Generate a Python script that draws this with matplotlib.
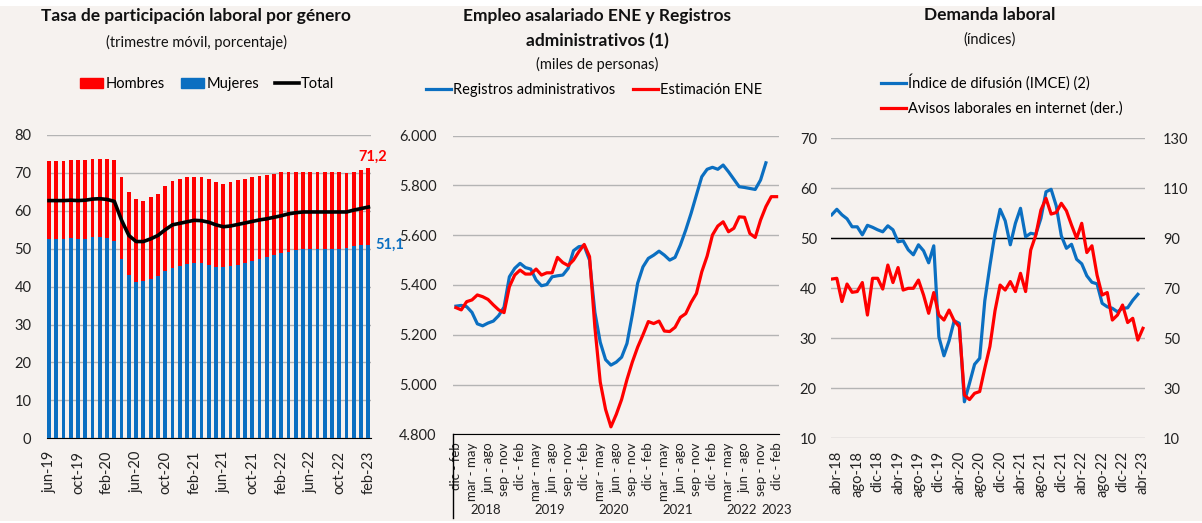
import numpy as np
import matplotlib
matplotlib.use("Agg")
import matplotlib.pyplot as plt
from matplotlib.patches import Rectangle, Patch
from matplotlib.lines import Line2D
from matplotlib.ticker import FuncFormatter

plt.rcParams['font.family'] = ['Lato', 'DejaVu Sans']

# ---------------- data ----------------
# left panel: participation rate, jun-19 .. feb-23 (monthly)
part_labels = ['jun-19', 'oct-19', 'feb-20', 'jun-20', 'oct-20', 'feb-21',
               'jun-21', 'oct-21', 'feb-22', 'jun-22', 'oct-22', 'feb-23']
hombres = [73.2, 73.2, 73.2, 73.4, 73.3, 73.4, 73.7, 73.7, 73.7, 73.3,
           69.0, 64.9, 63.1, 62.7, 63.6, 64.5, 66.5, 67.9, 68.4, 68.8,
           69.0, 69.0, 68.5, 67.7, 67.2, 67.5, 68.0, 68.5, 68.8, 69.1,
           69.4, 69.8, 70.2, 70.2, 70.2, 70.2, 70.2, 70.2, 70.2, 70.2,
           70.2, 70.0, 70.2, 70.7, 71.2]
mujeres = [52.7, 52.6, 52.6, 52.8, 52.5, 52.6, 53.2, 53.1, 52.8, 52.1,
           47.2, 43.1, 41.1, 41.4, 42.0, 42.7, 44.0, 44.9, 45.5, 46.1,
           46.2, 46.2, 45.8, 45.3, 45.1, 45.5, 45.8, 46.2, 46.8, 47.2,
           47.9, 48.3, 48.8, 49.2, 49.6, 49.9, 49.9, 49.9, 49.9, 49.9,
           49.9, 50.1, 50.7, 51.0, 51.1]
total = [62.7, 62.7, 62.7, 62.8, 62.7, 62.8, 63.1, 63.2, 63.0, 62.5,
         57.5, 53.5, 51.9, 51.9, 52.6, 53.5, 55.0, 56.3, 56.7, 57.1,
         57.5, 57.4, 57.0, 56.3, 55.8, 56.0, 56.4, 56.8, 57.2, 57.6,
         57.9, 58.3, 58.7, 59.2, 59.5, 59.7, 59.7, 59.7, 59.7, 59.7,
         59.7, 59.7, 60.2, 60.6, 61.0]

# middle panel: salaried employment, dic-feb 2018 .. dic-feb 2023 (monthly)
emp_labels = ['dic - feb', 'mar - may', 'jun - ago', 'sep - nov'] * 5 + ['dic - feb']
emp_years = ['2018', '2019', '2020', '2021', '2022', '2023']
registros = [5315, 5318, 5313, 5290, 5244, 5236, 5247, 5255, 5277, 5311,
             5433, 5467, 5487, 5470, 5464, 5420, 5397, 5402, 5433, 5437,
             5440, 5467, 5538, 5554, 5557, 5500, 5290, 5170, 5100, 5078,
             5090, 5110, 5165, 5280, 5407, 5473, 5507, 5520, 5536, 5520,
             5500, 5511, 5561, 5621, 5688, 5762, 5835, 5865, 5873, 5865,
             5882, 5855, 5825, 5795, 5792, 5788, 5784, 5822, 5891]
ene = [5309, 5300, 5333, 5340, 5360, 5353, 5342, 5320, 5300, 5289,
       5393, 5440, 5460, 5444, 5444, 5464, 5440, 5449, 5449, 5511,
       5490, 5478, 5500, 5534, 5563, 5514, 5230, 5010, 4900, 4830,
       4880, 4940, 5020, 5090, 5150, 5200, 5253, 5245, 5255, 5215,
       5213, 5230, 5270, 5285, 5330, 5366, 5453, 5516, 5601, 5637,
       5654, 5614, 5628, 5674, 5672, 5607, 5591, 5661, 5715, 5755, 5755]

# right panel: labour demand, mar-18 .. abr-23 (monthly)
dem_labels = ['abr-18', 'ago-18', 'dic-18', 'abr-19', 'ago-19', 'dic-19',
              'abr-20', 'ago-20', 'dic-20', 'abr-21', 'ago-21', 'dic-21',
              'abr-22', 'ago-22', 'dic-22', 'abr-23']
imce = [54.7, 55.8, 54.7, 53.9, 52.3, 52.3, 50.7, 52.6, 52.2, 51.7,
        51.3, 52.5, 51.7, 49.3, 49.5, 47.7, 46.7, 48.7, 47.5, 45.1,
        48.5, 30.3, 26.5, 29.5, 33.5, 33.0, 17.3, 21.0, 24.8, 26.0,
        37.5, 44.5, 51.0, 55.8, 53.5, 48.7, 53.0, 56.0, 50.3, 51.0,
        50.8, 54.0, 59.3, 59.8, 56.5, 50.5, 48.0, 48.8, 45.8, 44.9,
        42.5, 41.2, 40.9, 37.0, 36.3, 36.0, 35.3, 36.0, 36.1, 37.6, 38.8]
avisos = [73.7, 74.0, 64.7, 71.7, 68.4, 68.7, 72.3, 59.3, 74.0, 74.0,
          69.7, 79.3, 72.3, 78.3, 69.3, 70.0, 70.0, 73.3, 67.3, 60.0,
          68.3, 59.3, 57.3, 61.3, 57.0, 54.7, 27.3, 25.5, 28.0, 28.7,
          38.0, 46.7, 61.0, 71.3, 69.3, 72.7, 68.7, 76.0, 68.7, 85.3,
          91.3, 101.3, 106.0, 99.7, 100.3, 104.0, 101.0, 95.3, 90.0, 96.0,
          84.3, 87.0, 75.3, 67.3, 68.3, 57.3, 59.3, 63.3, 56.3, 58.0,
          49.3, 54.0]

# ---------------- styling ----------------
RED = '#ff0000'
BLUE = '#0b6fc1'
GRID = '#b4b4b4'
BG = '#f6f2ef'
W, H = 1202, 523

fig = plt.figure(figsize=(W / 100, H / 100), dpi=100)
fig.patch.set_facecolor('white')
fig.patches.append(Rectangle((0, 2 / H), 1, (H - 8) / H, transform=fig.transFigure,
                             facecolor=BG, edgecolor='none', zorder=-10))


def px_axes(x0, y0, x1, y1):
    a = fig.add_axes([x0 / W, 1 - y1 / H, (x1 - x0) / W, (y1 - y0) / H])
    a.set_facecolor('none')
    for s in a.spines.values():
        s.set_visible(False)
    a.yaxis.grid(True, color=GRID, lw=1)
    a.set_axisbelow(True)
    a.tick_params(length=0, labelsize=10.5, colors='#222222')
    return a


def ftext(x, y, s, **kw):
    fig.text(x / W, 1 - y / H, s, ha='center', va='center', color='#111111', **kw)


# ---------------- left panel ----------------
ax1 = px_axes(46.7, 135, 370.7, 438.3)
x1 = np.arange(len(hombres))
ax1.bar(x1, hombres, width=0.52, color=RED, zorder=2)
ax1.bar(x1, mujeres, width=0.52, color=BLUE, zorder=3)
ax1.plot(x1, total, color='black', lw=2.6, zorder=4)
ax1.set_xlim(-0.32, len(x1) - 0.68)
ax1.set_ylim(0, 80)
ax1.set_yticks(range(0, 81, 10))
ax1.set_xticks(x1[::4])
ax1.set_xticklabels(part_labels, rotation=90)
ax1.tick_params(axis='x', pad=9)
ax1.tick_params(axis='y', pad=11)
ax1.spines['bottom'].set_visible(True)
ax1.spines['bottom'].set_color('black')
ax1.text(x1[-1] + 0.6, hombres[-1] + 1.2, '71,2', color=RED, fontsize=10.5,
         fontweight='bold', ha='center', va='bottom')
ax1.text(x1[-1] + 0.9, mujeres[-1], '51,1', color=BLUE, fontsize=10.5,
         fontweight='bold', ha='left', va='center', clip_on=False)

ftext(196, 16, 'Tasa de participación laboral por género', fontsize=12.5, fontweight='bold')
ftext(197, 42, '(trimestre móvil, porcentaje)', fontsize=10.5)
h1 = [Patch(color=RED), Patch(color=BLUE), Line2D([], [], color='black', lw=2.6)]
fig.legend(h1, ['Hombres', 'Mujeres', 'Total'], loc='center',
           bbox_to_anchor=(207 / W, 1 - 84 / H), ncol=3, frameon=False,
           fontsize=10.5, handlelength=1.6, handletextpad=0.15, columnspacing=1.1)

# ---------------- middle panel ----------------
ax2 = px_axes(453, 135.7, 779, 434.3)
x2 = np.arange(len(ene))
ax2.plot(np.arange(len(registros)), registros, color=BLUE, lw=2.3, zorder=3)
ax2.plot(x2, ene, color=RED, lw=2.3, zorder=4)
ax2.set_xlim(-0.55, 60.45)
ax2.set_ylim(4800, 6000)
ax2.set_yticks(range(4800, 6001, 200))
ax2.yaxis.set_major_formatter(FuncFormatter(lambda v, p: f'{v:,.0f}'.replace(',', '.')))
ax2.set_xticks(x2[::3])
ax2.set_xticklabels(emp_labels, rotation=90, fontsize=9.5)
ax2.tick_params(axis='x', pad=6)
ax2.tick_params(axis='y', pad=12)
ax2.spines['bottom'].set_visible(True)
ax2.spines['bottom'].set_color('black')
for k, yr in enumerate(emp_years):
    xc = 5.5 + 12 * k if k < 5 else 60
    ax2.text(xc, -0.255, yr, transform=ax2.get_xaxis_transform(), ha='center',
             va='center', fontsize=9.5, color='#222222')
ax2.plot([-0.55, -0.55], [0, -0.28], transform=ax2.get_xaxis_transform(),
         color='black', lw=1, clip_on=False)

ftext(597, 16, 'Empleo asalariado ENE y Registros', fontsize=12.5, fontweight='bold')
ftext(597, 41, 'administrativos (1)', fontsize=12.5, fontweight='bold')
ftext(597, 64, '(miles de personas)', fontsize=10.5)
h2 = [Line2D([], [], color=BLUE, lw=2.3), Line2D([], [], color=RED, lw=2.3)]
fig.legend(h2, ['Registros administrativos', 'Estimación ENE'], loc='center',
           bbox_to_anchor=(594 / W, 1 - 90 / H), ncol=2, frameon=False,
           fontsize=10.5, handlelength=1.7, handletextpad=0.15, columnspacing=1.2)

# ---------------- right panel ----------------
ax3 = px_axes(830.7, 138.3, 1145, 438.3)
ax3b = ax3.twinx()
ax3b.set_facecolor('none')
for s in ax3b.spines.values():
    s.set_visible(False)
ax3b.tick_params(length=0, labelsize=10.5, colors='#222222', pad=13)
x3 = np.arange(len(avisos))
ax3.plot(np.arange(len(imce)), imce, color=BLUE, lw=2.3, zorder=3)
ax3b.plot(x3, avisos, color=RED, lw=2.3, zorder=4)
ax3.set_xlim(-0.2, 61.4)
ax3.set_ylim(10, 70)
ax3b.set_ylim(10, 130)
ax3.set_yticks(range(10, 71, 10))
ax3b.set_yticks(range(10, 131, 20))
ax3.axhline(50, color='black', lw=1, zorder=1)
ax3.set_xticks(x3[1::4])
ax3.set_xticklabels(dem_labels, rotation=90)
ax3.tick_params(axis='x', pad=9)
ax3.tick_params(axis='y', pad=10)

ftext(990, 15, 'Demanda laboral', fontsize=12.5, fontweight='bold')
ftext(990, 40, '(índices)', fontsize=10.5)
h3 = [Line2D([], [], color=BLUE, lw=2.3), Line2D([], [], color=RED, lw=2.3)]
fig.legend(h3, ['Índice de difusión (IMCE) (2)', 'Avisos laborales en internet (der.)'],
           loc='center left', bbox_to_anchor=(868 / W, 1 - 95 / H), ncol=1,
           frameon=False, fontsize=10.5, handlelength=1.7, handletextpad=0.15,
           labelspacing=0.75)

fig.savefig('out.png', dpi=100, facecolor=fig.get_facecolor())
